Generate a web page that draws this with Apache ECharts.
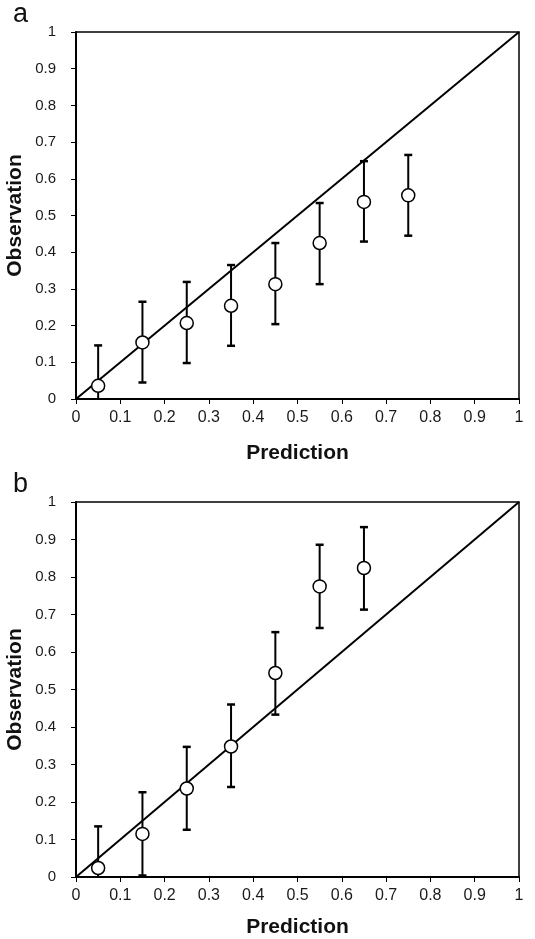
<!DOCTYPE html>
<html>
<head>
<meta charset="utf-8">
<script src="https://cdn.jsdelivr.net/npm/echarts@6/dist/echarts.min.js"></script>
<style>
html,body{margin:0;padding:0;background:#fff;}
#chart{width:535px;height:939px;}
</style>
</head>
<body>
<div id="chart"></div>
<script>
// Panel a
const predA  = [0.05, 0.15, 0.25, 0.35, 0.45, 0.55, 0.65, 0.75];
const obsA   = [0.036, 0.154, 0.207, 0.254, 0.313, 0.425, 0.537, 0.555];
const upperA = [0.146, 0.265, 0.319, 0.365, 0.425, 0.534, 0.648, 0.665];
const lowerA = [-0.074, 0.045, 0.098, 0.145, 0.204, 0.313, 0.429, 0.445];
// Panel b
const predB  = [0.05, 0.15, 0.25, 0.35, 0.45, 0.55, 0.65];
const obsB   = [0.024, 0.115, 0.236, 0.348, 0.544, 0.775, 0.824];
const upperB = [0.135, 0.226, 0.347, 0.460, 0.653, 0.886, 0.933];
const lowerB = [-0.087, 0.004, 0.126, 0.240, 0.433, 0.664, 0.713];
// Reference diagonal
const diagonal = [[0, 0], [1, 1]];
const panelLabels = ['a', 'b'];
const xTitle = 'Prediction';
const yTitle = 'Observation';

const FONT = 'Liberation Sans, Arial, sans-serif';

function errData(pred, lower, upper) {
  return pred.map((p, i) => [p, lower[i], upper[i]]);
}
function ptData(pred, obs) {
  return pred.map((p, i) => [p, obs[i]]);
}

function renderErr(params, api) {
  const x = api.value(0);
  const lo = api.coord([x, api.value(1)]);
  const hi = api.coord([x, api.value(2)]);
  const cs = params.coordSys;
  const yMin = cs.y, yMax = cs.y + cs.height;
  const clampY = v => Math.max(yMin, Math.min(yMax, v));
  const cap = 4;
  const children = [{
    type: 'line',
    shape: {x1: hi[0], y1: clampY(hi[1]), x2: lo[0], y2: clampY(lo[1])},
    style: {stroke: '#000', lineWidth: 2}
  }];
  if (hi[1] >= yMin && hi[1] <= yMax) {
    children.push({type: 'line', shape: {x1: hi[0] - cap, y1: hi[1], x2: hi[0] + cap, y2: hi[1]}, style: {stroke: '#000', lineWidth: 2.5}});
  }
  if (lo[1] >= yMin && lo[1] <= yMax) {
    children.push({type: 'line', shape: {x1: lo[0] - cap, y1: lo[1], x2: lo[0] + cap, y2: lo[1]}, style: {stroke: '#000', lineWidth: 2.5}});
  }
  return {type: 'group', children};
}

const grids = [
  {left: 76, right: 16, top: 32, height: 367},
  {left: 76, right: 16, top: 502, height: 375}
];
const nameGapsX = [44, 40];
const labelMarginX = [11, 11];

const option = {
  animation: false,
  backgroundColor: '#fff',
  title: panelLabels.map((t, i) => ({
    text: t, left: 8, top: i === 0 ? -4 : 466,
    textStyle: {fontFamily: FONT, fontSize: 27, fontWeight: 'normal', color: '#111'}
  })),
  grid: grids.map(g => Object.assign({show: true, borderColor: '#000', borderWidth: 1.5, backgroundColor: 'transparent', containLabel: false, outerBoundsMode: 'none'}, g)),
  xAxis: grids.map((g, i) => ({
    type: 'value', gridIndex: i, min: 0, max: 1, interval: 0.1,
    name: xTitle, nameLocation: 'middle', nameGap: nameGapsX[i], nameMoveOverlap: false,
    nameTextStyle: {fontFamily: FONT, fontSize: 21, fontWeight: 'bold', color: '#111'},
    axisLine: {show: true, onZero: false, lineStyle: {color: '#000', width: 2}},
    axisTick: {show: true, length: 5, inside: false, lineStyle: {color: '#000', width: 1}},
    axisLabel: {margin: labelMarginX[i], fontFamily: FONT, fontSize: 16, color: '#1a1a1a',
      formatter: v => String(Math.round(v * 10) / 10)},
    splitLine: {show: false}
  })),
  yAxis: grids.map((g, i) => ({
    type: 'value', gridIndex: i, min: 0, max: 1, interval: 0.1,
    name: yTitle, nameLocation: 'middle', nameGap: 50, nameRotate: 90, nameMoveOverlap: false,
    nameTextStyle: {fontFamily: FONT, fontSize: 21, fontWeight: 'bold', color: '#111'},
    axisLine: {show: true, onZero: false, lineStyle: {color: '#000', width: 2}},
    axisTick: {show: true, length: 5, inside: false, lineStyle: {color: '#000', width: 1}},
    axisLabel: {margin: 20, fontFamily: FONT, fontSize: 15, color: '#1a1a1a',
      formatter: v => String(Math.round(v * 10) / 10)},
    splitLine: {show: false}
  })),
  series: []
};

const panels = [
  {pred: predA, obs: obsA, lower: lowerA, upper: upperA},
  {pred: predB, obs: obsB, lower: lowerB, upper: upperB}
];
panels.forEach((p, i) => {
  option.series.push({
    type: 'line', xAxisIndex: i, yAxisIndex: i, data: diagonal,
    symbol: 'none', lineStyle: {color: '#000', width: 2}, z: 2, silent: true
  });
  option.series.push({
    type: 'custom', xAxisIndex: i, yAxisIndex: i,
    data: errData(p.pred, p.lower, p.upper),
    renderItem: renderErr, z: 3, silent: true
  });
  option.series.push({
    type: 'scatter', xAxisIndex: i, yAxisIndex: i,
    data: ptData(p.pred, p.obs),
    symbol: 'circle', symbolSize: 13,
    itemStyle: {color: '#fff', borderColor: '#000', borderWidth: 1.5, opacity: 1},
    z: 4, silent: true
  });
});

const chart = echarts.init(document.getElementById('chart'), null, {renderer: 'canvas'});
chart.setOption(option);
</script>
</body>
</html>
